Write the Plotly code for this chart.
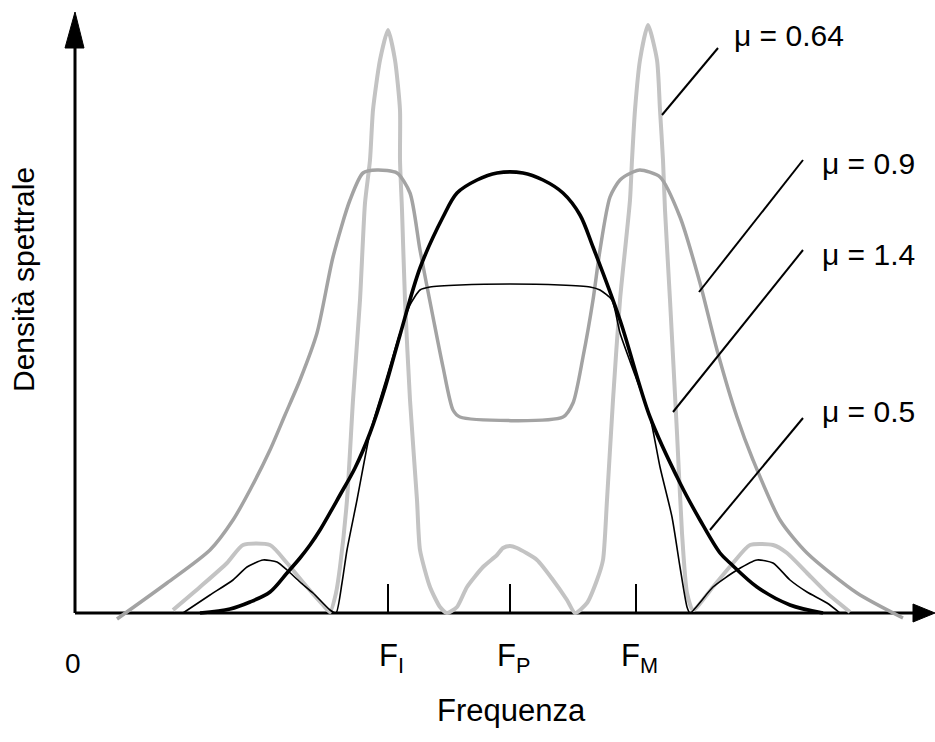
import plotly.graph_objects as go

# Frequency (arbitrary units, origin at the axes corner) and spectral density (arbitrary units)
tick_pos = [313, 435, 561]
tick_text = ["F<sub>I</sub>", "F<sub>P</sub>", "F<sub>M</sub>"]

# mu = 0.64  (light grey)
freq_064 = [98, 125, 152, 168, 195, 212, 232, 248, 255, 261, 265, 272, 278, 285, 290, 295, 298, 305, 313,
            320, 325, 325, 327, 330, 335, 342, 345, 355, 365, 372, 382, 392, 408, 422, 428, 435, 442, 462,
            478, 492, 500, 512, 522, 528, 532, 538, 545, 555, 557, 560, 565, 573, 582, 585, 588, 590, 595,
            602, 607, 612, 618, 638, 658, 675, 698, 712, 732, 752, 775]
dens_064 = [3, 26, 50, 68, 68, 50, 26, 8, 1, 20, 46, 113, 213, 313, 410, 453, 503, 553, 583,
            553, 503, 453, 403, 313, 213, 113, 63, 26, 6, 0, 6, 26, 46, 58, 65, 67, 65, 53,
            33, 13, 0, 10, 33, 53, 113, 213, 313, 413, 453, 503, 553, 588, 553, 503, 453, 403, 313,
            180, 80, 20, 3, 26, 50, 68, 68, 60, 40, 20, 1]

# mu = 0.9  (medium grey)
freq_09 = [42, 92, 135, 158, 175, 195, 210, 225, 242, 258, 275, 288, 302, 322, 335, 345, 358, 368, 378,
           385, 488, 498, 508, 518, 525, 535, 545, 558, 565, 585, 605, 625, 642, 662, 678, 705, 732, 782, 828]
dens_09 = [-6, 30, 63, 93, 123, 163, 198, 233, 280, 356, 413, 440, 443, 440, 420, 363, 296, 246, 203,
           196, 196, 210, 256, 313, 363, 416, 433, 441, 443, 436, 396, 330, 263, 196, 153, 93, 60, 20, -5]

# mu = 1.4  (thin black)
freq_14 = [108, 135, 158, 172, 188, 202, 212, 225, 238, 255, 261, 267, 272, 282, 295, 310, 325, 335, 345,
           355, 385, 435, 485, 515, 525, 537, 545, 560, 575, 585, 597, 605, 612, 615, 638, 662, 682, 698,
           715, 732, 752, 765]
dens_14 = [0, 18, 33, 46, 53, 51, 43, 31, 20, 3, 0, 30, 63, 113, 180, 230, 280, 308, 323,
           326, 328, 329, 328, 326, 323, 313, 280, 238, 196, 146, 96, 46, 6, 0, 26, 43, 53, 50,
           33, 21, 10, 0]

# mu = 0.5  (thick black)
freq_05 = [125, 155, 175, 195, 212, 225, 235, 245, 265, 280, 295, 310, 325, 345, 368, 382, 402, 422, 448,
           468, 488, 505, 518, 545, 575, 605, 625, 645, 655, 682, 715, 748]
dens_05 = [0, 4, 11, 21, 40, 55, 68, 83, 118, 145, 180, 225, 278, 345, 396, 420, 433, 440, 440,
           433, 420, 398, 366, 293, 196, 130, 93, 60, 50, 26, 8, 0]

labels = ["μ = 0.64", "μ = 0.9", "μ = 1.4", "μ = 0.5"]

FONT = "Liberation Sans, Arial, Helvetica, sans-serif"

fig = go.Figure()
fig.add_trace(go.Scatter(x=freq_064, y=dens_064, mode="lines",
                         line=dict(color="#c3c3c3", width=4, shape="spline", smoothing=0.6)))
fig.add_trace(go.Scatter(x=freq_09, y=dens_09, mode="lines",
                         line=dict(color="#a3a3a3", width=3.5, shape="spline", smoothing=0.7)))
fig.add_trace(go.Scatter(x=freq_14, y=dens_14, mode="lines",
                         line=dict(color="#000000", width=1.6, shape="spline", smoothing=0.6)))
fig.add_trace(go.Scatter(x=freq_05, y=dens_05, mode="lines",
                         line=dict(color="#000000", width=3.6, shape="spline", smoothing=0.9)))

shapes = []
# axes
shapes.append(dict(type="line", x0=0, y0=0, x1=840, y1=0, line=dict(color="black", width=3), layer="below"))
shapes.append(dict(type="line", x0=0, y0=0, x1=0, y1=570, line=dict(color="black", width=3), layer="below"))
# arrowheads
shapes.append(dict(type="path", path="M -10,565 L 0,601 L 9,565 Z", fillcolor="black",
                   line=dict(color="black", width=1)))
shapes.append(dict(type="path", path="M 838,-9 L 860,0 L 838,9 Z", fillcolor="black",
                   line=dict(color="black", width=1)))
# ticks
for t in tick_pos:
    shapes.append(dict(type="line", x0=t, y0=0, x1=t, y1=29, line=dict(color="black", width=2)))
# leader lines
leaders = [(643, 565, 587, 498), (728, 453, 624, 321), (728, 363, 598, 201), (728, 195, 635, 83)]
for x0, y0, x1, y1 in leaders:
    shapes.append(dict(type="line", x0=x0, y0=y0, x1=x1, y1=y1, line=dict(color="black", width=2)))

annotations = []
label_pos = [(657, 578), (745, 450), (745, 359), (745, 202)]
for txt, (lx, ly) in zip(labels, label_pos):
    annotations.append(dict(x=lx, y=ly, text=txt, showarrow=False, xanchor="left", yanchor="middle",
                            font=dict(family=FONT, size=30, color="black")))
for t, txt in zip(tick_pos, tick_text):
    annotations.append(dict(x=t + 3, y=-45, text=txt, showarrow=False, xanchor="center", yanchor="middle",
                            font=dict(family=FONT, size=31, color="black")))
annotations.append(dict(x=-2, y=-50, text="0", showarrow=False, xanchor="center", yanchor="middle",
                        font=dict(family=FONT, size=28, color="black")))
annotations.append(dict(x=436, y=-97, text="Frequenza", showarrow=False, xanchor="center", yanchor="middle",
                        font=dict(family=FONT, size=31, color="black")))
annotations.append(dict(x=-52, y=333, text="Densità spettrale", showarrow=False, textangle=-90,
                        xanchor="center", yanchor="middle",
                        font=dict(family=FONT, size=30, color="black")))

fig.update_layout(
    width=935, height=742,
    margin=dict(l=0, r=0, t=0, b=0),
    paper_bgcolor="white", plot_bgcolor="white",
    showlegend=False,
    xaxis=dict(range=[-75, 860], visible=False, fixedrange=True),
    yaxis=dict(range=[-129, 613], visible=False, fixedrange=True),
    shapes=shapes, annotations=annotations,
)

fig.write_html("out.html", config={"displayModeBar": False},
               post_script="document.body.style.margin='0px';")
